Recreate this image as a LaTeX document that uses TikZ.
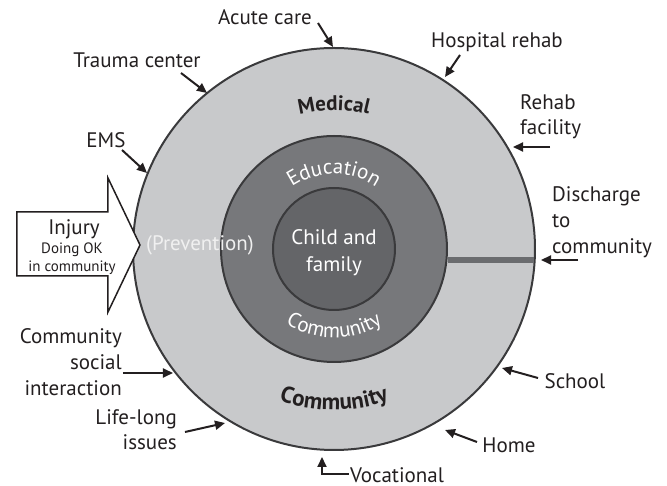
\documentclass[tikz,border=0pt]{standalone}
\usepackage{fontspec}
\setmainfont{PT Sans}
\usetikzlibrary{decorations.text,arrows.meta}
\definecolor{ringA}{HTML}{C8C9CB}
\definecolor{ringB}{HTML}{77787B}
\definecolor{ringC}{HTML}{646568}
\definecolor{edge}{HTML}{3A3A3C}
\definecolor{ink}{HTML}{231F20}
\definecolor{pale}{HTML}{F0F0F0}
\begin{document}
\begin{tikzpicture}[x=1pt,y=1pt,
  lbl/.style={text=ink,font=\fontsize{21}{25}\selectfont,inner sep=0pt},
  small/.style={text=ink,font=\fontsize{15}{18}\selectfont,inner sep=0pt},
  ring/.style={circle,inner sep=0pt,outer sep=0pt,draw=edge,line width=2pt},
  ptr/.style={draw=ink,line width=2pt,-{Triangle[length=10pt,width=9pt]}},
  elbow/.style={draw=ink,line width=2pt,-{Triangle[length=10pt,width=9pt]}}]
\useasboundingbox (-334,-237) rectangle (333,249);
% rings
\node[ring,fill=ringA,minimum size=402pt] (outer) at (0,0) {};
\node[ring,fill=ringB,minimum size=226pt] (middle) at (0,0) {};
\node[ring,fill=ringC,minimum size=122pt] (inner) at (0,0) {};
\coordinate (barL) at (114,-11);
\coordinate (barR) at (200,-11);
\draw[ringB!90!black,line width=6.5pt] (barL) -- (barR);
% curved texts
\path[decorate,decoration={text along path,text align=center,
  text={|\fontsize{21}{21}\selectfont\bfseries\color{ink}|Medical}}]
  (130:139) arc[start angle=130,end angle=50,radius=139];
\path[decorate,decoration={text along path,text align=center,
  text={|\fontsize{21}{21}\selectfont\color{white}|Education}}]
  (145:75) arc[start angle=145,end angle=35,radius=75];
\path[decorate,decoration={text along path,text align=center,
  text={|\fontsize{21}{21}\selectfont\color{white}|Community}}]
  (215:89) arc[start angle=215,end angle=325,radius=89];
\path[decorate,decoration={text along path,text align=center,
  text={|\fontsize{23}{23}\selectfont\bfseries\color{ink}|Community}}]
  (230:161) arc[start angle=230,end angle=310,radius=161];
% inner labels
\node[text=white,font=\fontsize{21}{27}\selectfont,align=center,inner sep=0pt] (child) at (0,-4) {Child and\\family};
% injury arrow
\draw[fill=white,draw=ink,line width=1.5pt,line join=miter]
  (-317,37) -- (-226,37) -- (-226,71) -- (-194,4) -- (-226,-63) -- (-226,-27) -- (-317,-27) -- cycle;
\node[text=pale,font=\fontsize{21}{21}\selectfont,inner sep=0pt] (prev) at (-134,4) {(Prevention)};
\node[lbl] (injury) at (-260,20) {Injury};
\node[small] (doing) at (-262,-1) {Doing OK};
\node[small] (incomm) at (-262,-19) {in community};
% outer labels
\node[lbl] (acute) at (-69,232) {Acute care};
\node[lbl] (trauma) at (-197,189) {Trauma center};
\node[lbl] (ems) at (-228,109) {EMS};
\node[lbl] (hosp) at (163,207) {Hospital rehab};
\node[lbl,align=left,anchor=west] (rehab) at (186,132) {Rehab\\facility};
\node[lbl,align=left,anchor=west,font=\fontsize{21}{26}\selectfont] (disch) at (218,27) {Discharge\\to\\community};
\node[lbl] (school) at (241,-132) {School};
\node[lbl] (home) at (175,-196) {Home};
\node[lbl] (voc) at (63,-226) {Vocational};
\node[lbl,align=right,anchor=east,font=\fontsize{21}{26}\selectfont] (social) at (-212,-113) {Community\\social\\interaction};
\node[lbl,align=right,anchor=east] (life) at (-157,-181) {Life-long\\issues};
% arrow ends
\coordinate (acuteA) at (-16,226);  \coordinate (acuteB) at (-1,202);
\coordinate (traumaA) at (-153,176); \coordinate (traumaB) at (-127,156);
\coordinate (emsA) at (-212,99);    \coordinate (emsB) at (-187,76);
\coordinate (hospA) at (126,194);   \coordinate (hospB) at (111,172);
\coordinate (rehabA) at (216,102);  \coordinate (rehabB) at (179,102);
\coordinate (dischA) at (244,-11);  \coordinate (dischB) at (207,-11);
\coordinate (schoolA) at (204,-129); \coordinate (schoolB) at (168,-119);
\coordinate (homeA) at (143,-193);  \coordinate (homeB) at (111,-181);
\coordinate (vocA) at (15,-225);    \coordinate (vocC) at (-12,-225); \coordinate (vocB) at (-12,-208);
\coordinate (socA) at (-211,-124);  \coordinate (socB) at (-161,-124);
\coordinate (lifeA) at (-149,-183); \coordinate (lifeB) at (-109,-174);
\draw[ptr] (acuteA) -- (acuteB);
\draw[ptr] (traumaA) -- (traumaB);
\draw[ptr] (emsA) -- (emsB);
\draw[ptr] (hospA) -- (hospB);
\draw[ptr] (rehabA) -- (rehabB);
\draw[ptr] (dischA) -- (dischB);
\draw[ptr] (schoolA) -- (schoolB);
\draw[ptr] (homeA) -- (homeB);
\draw[elbow] (vocA) -- (vocC) -- (vocB);
\draw[ptr] (socA) -- (socB);
\draw[ptr] (lifeA) -- (lifeB);
\end{tikzpicture}
\end{document}
